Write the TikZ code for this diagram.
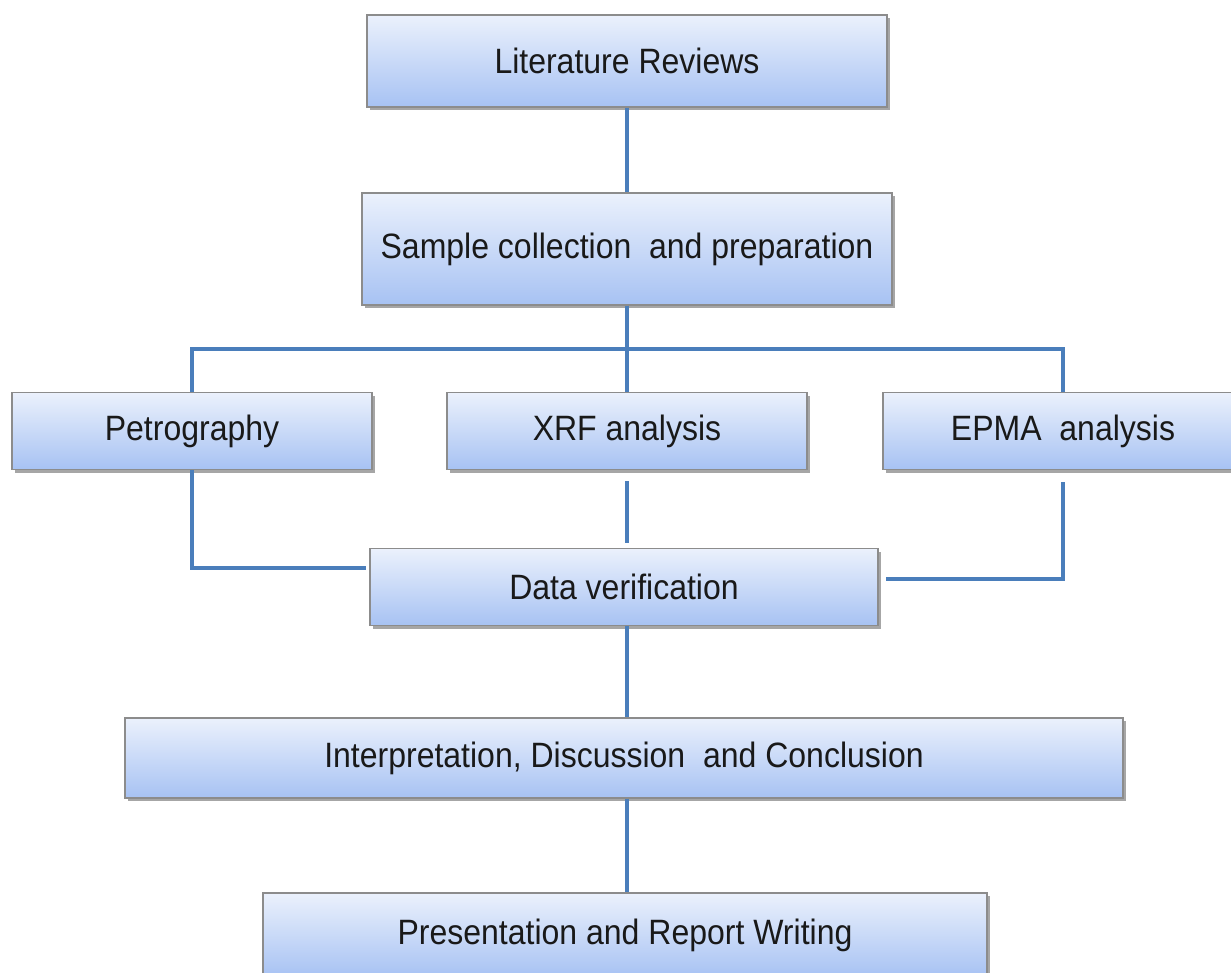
\documentclass[tikz,border=0pt]{standalone}
\usepackage{fontspec}
\setmainfont{Liberation Sans}
\usetikzlibrary{shadows}
\definecolor{boxtop}{HTML}{EBF1FC}
\definecolor{boxbot}{HTML}{A7C2F3}
\definecolor{boxline}{HTML}{8C8C8C}
\definecolor{conn}{HTML}{4A7EBB}
\tikzset{
  flowbox/.style={rectangle, draw=boxline, line width=1.5pt,
    top color=boxtop, bottom color=boxbot,
    drop shadow={shadow xshift=2.5pt, shadow yshift=-3pt, fill=black, opacity=0.35},
    inner sep=0pt, font=\fontsize{32}{36}\selectfont, text=black!90},
  link/.style={draw=conn, line width=3.5pt}
}
\newcommand{\tx}[1]{\scalebox{1}[1.1]{#1}}
\begin{document}
\begin{tikzpicture}[x=1pt,y=-1pt]
\useasboundingbox (0,0) rectangle (1231,972);
\clip (0,0) rectangle (1231,972);
\fill[white] (0,0) rectangle (1231,972);
% nodes
\node[flowbox, minimum width=520pt, minimum height=92pt] (lit) at (627,61) {\tx{Literature Reviews}};
\node[flowbox, minimum width=530pt, minimum height=112pt] (samp) at (627,249) {\tx{Sample collection\ \ and preparation}};
\node[flowbox, minimum width=360pt, minimum height=77pt] (petro) at (192,431) {\tx{Petrography}};
\node[flowbox, minimum width=360pt, minimum height=77pt] (xrf) at (627,431) {\tx{XRF analysis}};
\node[flowbox, minimum width=360pt, minimum height=77pt] (epma) at (1063,431) {\tx{EPMA\ \ analysis}};
\node[flowbox, minimum width=508pt, minimum height=77pt] (data) at (624,587) {\tx{Data verification}};
\node[flowbox, minimum width=998pt, minimum height=80pt] (interp) at (624,758) {\tx{Interpretation, Discussion\ \ and Conclusion}};
\node[flowbox, minimum width=724pt, minimum height=84pt] (pres) at (625,935) {\tx{Presentation and Report Writing}};
% connectors
\coordinate (bus) at (627,349);
\begin{scope}[on background layer/.style={}]
\draw[link] (lit.south) -- (samp.north);
\draw[link] (samp.south) -- (xrf.north);
\draw[link] (petro.north) |- (bus) -| (epma.north);
\draw[link] (petro.south) |- ([yshift=19pt,xshift=-3pt]data.west);
\draw[link] ([yshift=-11pt]xrf.south) -- ([yshift=5pt]data.north -| xrf.south);
\draw[link] ([yshift=-12pt]epma.south) |- ([xshift=7pt,yshift=8pt]data.east);
\draw[link] (data.south -| lit.south) -- (interp.north -| lit.south);
\draw[link] (interp.south -| lit.south) -- (pres.north -| lit.south);
\end{scope}
\end{tikzpicture}
\end{document}
